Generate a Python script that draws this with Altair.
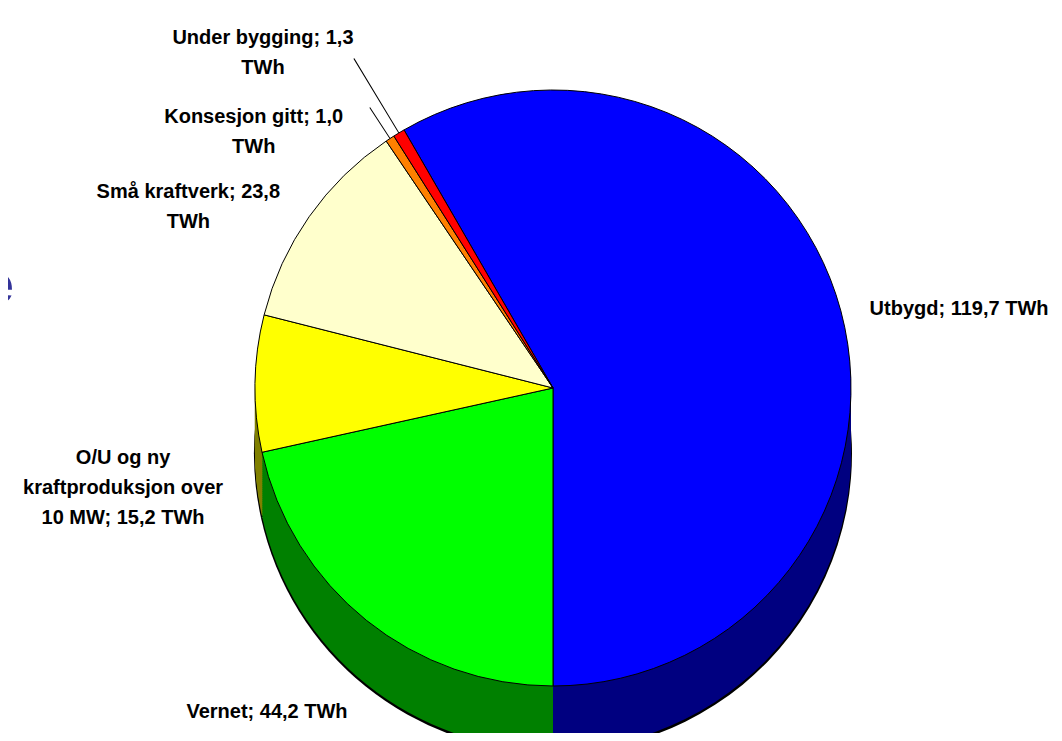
import math
import altair as alt
import pandas as pd

# ---- data ----
categories = ["Utbygd", "Vernet", "O/U og ny kraftproduksjon over 10 MW",
              "Små kraftverk", "Konsesjon gitt", "Under bygging"]
values_twh = [119.7, 44.2, 15.2, 23.8, 1.0, 1.3]
label_texts = ["Utbygd; 119,7 TWh", "Vernet; 44,2 TWh",
               "O/U og ny\nkraftproduksjon over\n10 MW; 15,2 TWh",
               "Små kraftverk; 23,8\nTWh", "Konsesjon gitt; 1,0\nTWh",
               "Under bygging; 1,3\nTWh"]
top_colors = ["#0000FF", "#00FF00", "#FFFF00", "#FFFFCC", "#FF8000", "#FF0000"]
side_colors = ["#000080", "#008000", "#808000", "#808066", "#804000", "#800000"]

df = pd.DataFrame({
    "cat": categories,
    "value": values_twh,
    "label": label_texts,
    "top": top_colors,
    "side": side_colors,
    "idx": list(range(len(categories))),
})

total = sum(values_twh)

# ---- layout / style ----
CX, CY, R, DEPTH = 545, 380, 298, 64
FONT = "Liberation Sans, Arial"
FS = 20

theta_scale = alt.Scale(domain=[0, total],
                        range=[-math.pi / 6, 2 * math.pi - math.pi / 6])

base = alt.Chart(df).transform_window(
    cum="sum(value)", sort=[alt.SortField("idx", order="ascending")]
).transform_calculate(
    a0="datum.cum - datum.value",
    mid="datum.cum - datum.value / 2",
)


def arc_layer(dy, color_field, **mark):
    return base.mark_arc(radius=R, **mark).encode(
        theta=alt.Theta("a0:Q", scale=theta_scale, stack=False),
        theta2=alt.Theta2("cum:Q"),
        x=alt.value(CX),
        y=alt.value(CY + dy),
        fill=alt.Fill(f"{color_field}:N", scale=None),
    )


layers = []
# black base disk (gives outline of the side and the vertical seams)
layers.append(
    base.mark_arc(radius=R + 1, color="black").encode(
        theta=alt.Theta("a0:Q", scale=theta_scale, stack=False),
        theta2=alt.Theta2("cum:Q"),
        x=alt.value(CX),
        y=alt.value(CY + DEPTH + 1.5),
    )
)
# side of the 3D pie
for d in range(DEPTH, 0, -2):
    layers.append(arc_layer(d, "side", padAngle=0.004))
# top face
layers.append(arc_layer(0, "top", stroke="black", strokeWidth=1))

# leader lines for the two small slices
for i, outer in [(4, 335), (5, 385)]:
    layers.append(
        base.transform_filter(f"datum.idx == {i}").transform_calculate(
            l0="datum.mid - 0.05", l1="datum.mid + 0.05"
        ).mark_arc(innerRadius=R, outerRadius=outer, color="black").encode(
            theta=alt.Theta("l0:Q", scale=theta_scale, stack=False),
            theta2=alt.Theta2("l1:Q"),
            x=alt.value(CX),
            y=alt.value(CY),
        )
    )

# labels: (radius, dx, dy, align)
label_pos = {
    0: (305, 22, 0, "left"),
    1: (420, -23, -3, "center"),
    2: (390, -40, 76, "center"),
    3: (420, -21, 45, "center"),
    4: (326, -121, 2, "center"),
    5: (410, -78, 1, "center"),
}
for i, (rad, dx, dy, align) in label_pos.items():
    layers.append(
        base.transform_filter(f"datum.idx == {i}").mark_text(
            radius=rad, dx=dx, dy=dy, align=align, baseline="middle",
            font=FONT, fontSize=FS, fontWeight="bold", color="black",
            lineBreak="\n", lineHeight=30,
        ).encode(
            theta=alt.Theta("mid:Q", scale=theta_scale, stack=False),
            x=alt.value(CX),
            y=alt.value(CY),
            text="label:N",
        )
    )

# cut-off title letter at the left edge
layers.append(
    alt.Chart(pd.DataFrame({"t": ["e"]})).mark_text(
        align="right", baseline="alphabetic", fontSize=56, fontWeight="bold",
        color="#333399", font="Liberation Sans",
    ).encode(x=alt.value(6), y=alt.value(295), text="t:N")
)

chart = alt.layer(*layers).properties(
    width=1046, height=725, padding=0,
    autosize=alt.AutoSizeParams(type="none"),
).configure_view(stroke="transparent")

chart.save("out.html", embed_options={"renderer": "svg", "actions": False})
